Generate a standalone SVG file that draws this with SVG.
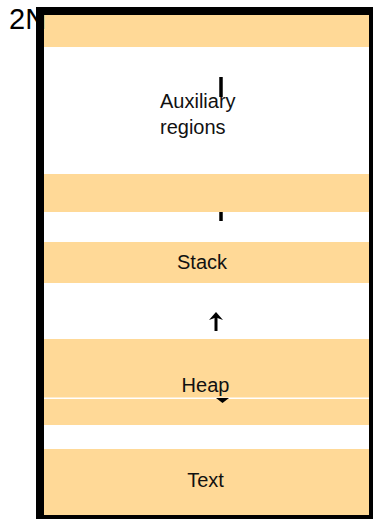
<svg xmlns="http://www.w3.org/2000/svg" width="373" height="519" viewBox="0 0 373 519">
<style>
.band{fill:#FFD997;stroke:none}
.lbl{font-family:"Liberation Sans",Arial,sans-serif;font-size:20px;fill:#111}
.tick{stroke:#000;stroke-width:3.5;fill:none}
.head{fill:#000;stroke:none}
</style>
<rect x="0" y="0" width="373" height="519" fill="#fff"/>
<g id="band-top"><rect class="band" x="44" y="15" width="325" height="32"/></g>
<g id="auxiliary"><text class="lbl" x="160" y="108">Auxiliary</text><text class="lbl" x="160" y="134">regions</text></g>
<g id="band-aux"><rect class="band" x="44" y="174" width="325" height="38"/></g>
<g id="stack"><rect class="band" x="44" y="242" width="325" height="41"/><text class="lbl" x="202" y="268.5" text-anchor="middle">Stack</text></g>
<g id="heap"><rect class="band" x="44" y="339" width="325" height="58.5"/><rect class="band" x="44" y="399" width="325" height="26"/><text class="lbl" x="205.5" y="391.5" text-anchor="middle">Heap</text></g>
<g id="text"><rect class="band" x="44" y="449" width="325" height="66"/><text class="lbl" x="205.5" y="487" text-anchor="middle">Text</text></g>
<g id="outline"><rect x="40" y="11" width="333" height="508" fill="none" stroke="#000" stroke-width="8"/></g>
<g id="label-2n"><text x="9" y="29" font-family="Liberation Sans,Arial,sans-serif" font-size="29" fill="#000">2N</text></g>
<g id="connectors">
<line class="tick" x1="221" y1="77" x2="221" y2="97"/>
<line class="tick" x1="221" y1="212" x2="221" y2="221"/>
<line x1="216" y1="331" x2="216" y2="316" stroke="#000" stroke-width="3"/>
<path class="head" d="M209,320 L216,312 L223,320 L216,317.5 Z"/>
<path class="head" d="M216,398 L229,398 L222.5,403 Z"/>
</g>
</svg>
